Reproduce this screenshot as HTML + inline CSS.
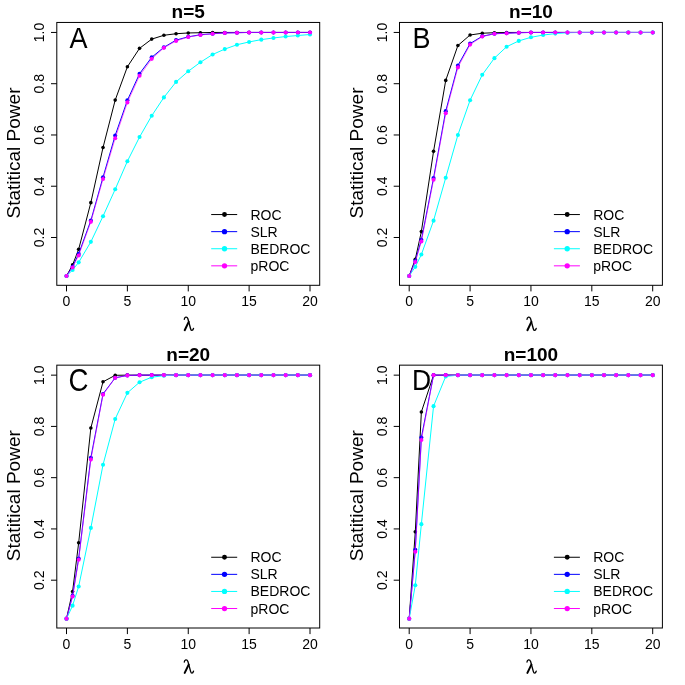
<!DOCTYPE html>
<html><head><meta charset="utf-8"><style>
html,body{margin:0;padding:0;background:#fff;}
body{width:685px;height:685px;overflow:hidden;}
svg{display:block;filter:blur(0.3px);}
text{font-family:"Liberation Sans",sans-serif;fill:#000;}
.tk{font-size:14px;}
.lab{font-size:19px;}
.ttl{font-size:19px;font-weight:bold;}
.let{font-size:28.5px;}
.leg{font-size:14px;}
</style></head><body>
<svg width="685" height="685" viewBox="0 0 685 685">
<rect width="685" height="685" fill="#fff"/>
<g transform="translate(0,0)">
<rect x="56.8" y="22.45" width="262.90" height="262.85" fill="none" stroke="#000" stroke-width="1"/>
<line x1="66.50" y1="285.3" x2="66.50" y2="291.40000000000003" stroke="#000" stroke-width="1"/>
<text x="66.50" y="306" class="tk" text-anchor="middle">0</text>
<line x1="127.38" y1="285.3" x2="127.38" y2="291.40000000000003" stroke="#000" stroke-width="1"/>
<text x="127.38" y="306" class="tk" text-anchor="middle">5</text>
<line x1="188.25" y1="285.3" x2="188.25" y2="291.40000000000003" stroke="#000" stroke-width="1"/>
<text x="188.25" y="306" class="tk" text-anchor="middle">10</text>
<line x1="249.12" y1="285.3" x2="249.12" y2="291.40000000000003" stroke="#000" stroke-width="1"/>
<text x="249.12" y="306" class="tk" text-anchor="middle">15</text>
<line x1="310.00" y1="285.3" x2="310.00" y2="291.40000000000003" stroke="#000" stroke-width="1"/>
<text x="310.00" y="306" class="tk" text-anchor="middle">20</text>
<line x1="51.0" y1="237.49" x2="56.8" y2="237.49" stroke="#000" stroke-width="1"/>
<text transform="translate(43.8,237.49) rotate(-90)" class="tk" text-anchor="middle">0.2</text>
<line x1="51.0" y1="186.23" x2="56.8" y2="186.23" stroke="#000" stroke-width="1"/>
<text transform="translate(43.8,186.23) rotate(-90)" class="tk" text-anchor="middle">0.4</text>
<line x1="51.0" y1="134.97" x2="56.8" y2="134.97" stroke="#000" stroke-width="1"/>
<text transform="translate(43.8,134.97) rotate(-90)" class="tk" text-anchor="middle">0.6</text>
<line x1="51.0" y1="83.71" x2="56.8" y2="83.71" stroke="#000" stroke-width="1"/>
<text transform="translate(43.8,83.71) rotate(-90)" class="tk" text-anchor="middle">0.8</text>
<line x1="51.0" y1="32.45" x2="56.8" y2="32.45" stroke="#000" stroke-width="1"/>
<text transform="translate(43.8,32.45) rotate(-90)" class="tk" text-anchor="middle">1.0</text>
<path d="M184.3,319.3 C184.5,317.0 186.9,316.2 187.9,318.7 L190.6,328.7 C191.2,331.0 192.7,331.0 193.5,328.5" fill="none" stroke="#000" stroke-width="1.35" stroke-linecap="round"/>
<path d="M188.7,321.9 L184.7,330.2" fill="none" stroke="#000" stroke-width="2.0" stroke-linecap="round"/>
<text transform="translate(20.2,153.0) rotate(-90)" class="lab" text-anchor="middle">Statitical Power</text>
<text x="188.25" y="18.2" class="ttl" text-anchor="middle">n=5</text>
<text transform="translate(69.6,47.6) rotate(0.01) scale(0.949,1.06)" class="let">A</text>
<polyline points="66.50,275.94 72.59,264.91 78.67,249.28 90.85,202.63 103.03,147.53 115.20,100.11 127.38,66.79 139.55,48.34 151.73,39.11 163.90,35.27 176.07,33.73 188.25,32.96 200.43,32.71 212.60,32.45 224.78,32.45 236.95,32.45 249.12,32.45 261.30,32.45 273.48,32.45 285.65,32.45 297.83,32.45 310.00,32.45" fill="none" stroke="#000000" stroke-width="1"/>
<circle cx="66.50" cy="275.94" r="1.8" fill="#000000"/>
<circle cx="72.59" cy="264.91" r="1.8" fill="#000000"/>
<circle cx="78.67" cy="249.28" r="1.8" fill="#000000"/>
<circle cx="90.85" cy="202.63" r="1.8" fill="#000000"/>
<circle cx="103.03" cy="147.53" r="1.8" fill="#000000"/>
<circle cx="115.20" cy="100.11" r="1.8" fill="#000000"/>
<circle cx="127.38" cy="66.79" r="1.8" fill="#000000"/>
<circle cx="139.55" cy="48.34" r="1.8" fill="#000000"/>
<circle cx="151.73" cy="39.11" r="1.8" fill="#000000"/>
<circle cx="163.90" cy="35.27" r="1.8" fill="#000000"/>
<circle cx="176.07" cy="33.73" r="1.8" fill="#000000"/>
<circle cx="188.25" cy="32.96" r="1.8" fill="#000000"/>
<circle cx="200.43" cy="32.71" r="1.8" fill="#000000"/>
<circle cx="212.60" cy="32.45" r="1.8" fill="#000000"/>
<circle cx="224.78" cy="32.45" r="1.8" fill="#000000"/>
<circle cx="236.95" cy="32.45" r="1.8" fill="#000000"/>
<circle cx="249.12" cy="32.45" r="1.8" fill="#000000"/>
<circle cx="261.30" cy="32.45" r="1.8" fill="#000000"/>
<circle cx="273.48" cy="32.45" r="1.8" fill="#000000"/>
<circle cx="285.65" cy="32.45" r="1.8" fill="#000000"/>
<circle cx="297.83" cy="32.45" r="1.8" fill="#000000"/>
<circle cx="310.00" cy="32.45" r="1.8" fill="#000000"/>
<polyline points="66.50,275.94 72.59,266.71 78.67,253.89 90.85,220.57 103.03,177.26 115.20,135.48 127.38,100.37 139.55,73.71 151.73,57.31 163.90,47.32 176.07,40.14 188.25,36.81 200.43,34.76 212.60,33.73 224.78,32.96 236.95,32.71 249.12,32.45 261.30,32.45 273.48,32.45 285.65,32.45 297.83,32.45 310.00,32.45" fill="none" stroke="#0000ff" stroke-width="1"/>
<circle cx="66.50" cy="275.94" r="2.05" fill="#0000ff"/>
<circle cx="72.59" cy="266.71" r="2.05" fill="#0000ff"/>
<circle cx="78.67" cy="253.89" r="2.05" fill="#0000ff"/>
<circle cx="90.85" cy="220.57" r="2.05" fill="#0000ff"/>
<circle cx="103.03" cy="177.26" r="2.05" fill="#0000ff"/>
<circle cx="115.20" cy="135.48" r="2.05" fill="#0000ff"/>
<circle cx="127.38" cy="100.37" r="2.05" fill="#0000ff"/>
<circle cx="139.55" cy="73.71" r="2.05" fill="#0000ff"/>
<circle cx="151.73" cy="57.31" r="2.05" fill="#0000ff"/>
<circle cx="163.90" cy="47.32" r="2.05" fill="#0000ff"/>
<circle cx="176.07" cy="40.14" r="2.05" fill="#0000ff"/>
<circle cx="188.25" cy="36.81" r="2.05" fill="#0000ff"/>
<circle cx="200.43" cy="34.76" r="2.05" fill="#0000ff"/>
<circle cx="212.60" cy="33.73" r="2.05" fill="#0000ff"/>
<circle cx="224.78" cy="32.96" r="2.05" fill="#0000ff"/>
<circle cx="236.95" cy="32.71" r="2.05" fill="#0000ff"/>
<circle cx="249.12" cy="32.45" r="2.05" fill="#0000ff"/>
<circle cx="261.30" cy="32.45" r="2.05" fill="#0000ff"/>
<circle cx="273.48" cy="32.45" r="2.05" fill="#0000ff"/>
<circle cx="285.65" cy="32.45" r="2.05" fill="#0000ff"/>
<circle cx="297.83" cy="32.45" r="2.05" fill="#0000ff"/>
<circle cx="310.00" cy="32.45" r="2.05" fill="#0000ff"/>
<polyline points="66.50,275.94 72.59,270.04 78.67,262.35 90.85,241.85 103.03,216.22 115.20,189.31 127.38,161.24 139.55,137.02 151.73,115.75 163.90,97.42 176.07,81.92 188.25,71.28 200.43,62.28 212.60,54.49 224.78,49.11 236.95,44.75 249.12,41.93 261.30,39.63 273.48,37.96 285.65,36.55 297.83,35.53 310.00,34.50" fill="none" stroke="#00ffff" stroke-width="1"/>
<circle cx="66.50" cy="275.94" r="2.05" fill="#00ffff"/>
<circle cx="72.59" cy="270.04" r="2.05" fill="#00ffff"/>
<circle cx="78.67" cy="262.35" r="2.05" fill="#00ffff"/>
<circle cx="90.85" cy="241.85" r="2.05" fill="#00ffff"/>
<circle cx="103.03" cy="216.22" r="2.05" fill="#00ffff"/>
<circle cx="115.20" cy="189.31" r="2.05" fill="#00ffff"/>
<circle cx="127.38" cy="161.24" r="2.05" fill="#00ffff"/>
<circle cx="139.55" cy="137.02" r="2.05" fill="#00ffff"/>
<circle cx="151.73" cy="115.75" r="2.05" fill="#00ffff"/>
<circle cx="163.90" cy="97.42" r="2.05" fill="#00ffff"/>
<circle cx="176.07" cy="81.92" r="2.05" fill="#00ffff"/>
<circle cx="188.25" cy="71.28" r="2.05" fill="#00ffff"/>
<circle cx="200.43" cy="62.28" r="2.05" fill="#00ffff"/>
<circle cx="212.60" cy="54.49" r="2.05" fill="#00ffff"/>
<circle cx="224.78" cy="49.11" r="2.05" fill="#00ffff"/>
<circle cx="236.95" cy="44.75" r="2.05" fill="#00ffff"/>
<circle cx="249.12" cy="41.93" r="2.05" fill="#00ffff"/>
<circle cx="261.30" cy="39.63" r="2.05" fill="#00ffff"/>
<circle cx="273.48" cy="37.96" r="2.05" fill="#00ffff"/>
<circle cx="285.65" cy="36.55" r="2.05" fill="#00ffff"/>
<circle cx="297.83" cy="35.53" r="2.05" fill="#00ffff"/>
<circle cx="310.00" cy="34.50" r="2.05" fill="#00ffff"/>
<polyline points="66.50,275.94 72.59,267.48 78.67,255.43 90.85,221.86 103.03,179.05 115.20,138.30 127.38,102.42 139.55,75.76 151.73,58.85 163.90,47.83 176.07,40.91 188.25,37.06 200.43,35.01 212.60,33.73 224.78,32.96 236.95,32.71 249.12,32.45 261.30,32.45 273.48,32.45 285.65,32.45 297.83,32.45 310.00,32.45" fill="none" stroke="#ff00ff" stroke-width="1" stroke-opacity="0.6"/>
<circle cx="66.50" cy="275.94" r="2.05" fill="#ff00ff"/>
<circle cx="72.59" cy="267.48" r="2.05" fill="#ff00ff"/>
<circle cx="78.67" cy="255.43" r="2.05" fill="#ff00ff"/>
<circle cx="90.85" cy="221.86" r="2.05" fill="#ff00ff"/>
<circle cx="103.03" cy="179.05" r="2.05" fill="#ff00ff"/>
<circle cx="115.20" cy="138.30" r="2.05" fill="#ff00ff"/>
<circle cx="127.38" cy="102.42" r="2.05" fill="#ff00ff"/>
<circle cx="139.55" cy="75.76" r="2.05" fill="#ff00ff"/>
<circle cx="151.73" cy="58.85" r="2.05" fill="#ff00ff"/>
<circle cx="163.90" cy="47.83" r="2.05" fill="#ff00ff"/>
<circle cx="176.07" cy="40.91" r="2.05" fill="#ff00ff"/>
<circle cx="188.25" cy="37.06" r="2.05" fill="#ff00ff"/>
<circle cx="200.43" cy="35.01" r="2.05" fill="#ff00ff"/>
<circle cx="212.60" cy="33.73" r="2.05" fill="#ff00ff"/>
<circle cx="224.78" cy="32.96" r="2.05" fill="#ff00ff"/>
<circle cx="236.95" cy="32.71" r="2.05" fill="#ff00ff"/>
<circle cx="249.12" cy="32.45" r="2.05" fill="#ff00ff"/>
<circle cx="261.30" cy="32.45" r="2.05" fill="#ff00ff"/>
<circle cx="273.48" cy="32.45" r="2.05" fill="#ff00ff"/>
<circle cx="285.65" cy="32.45" r="2.05" fill="#ff00ff"/>
<circle cx="297.83" cy="32.45" r="2.05" fill="#ff00ff"/>
<circle cx="310.00" cy="32.45" r="2.05" fill="#ff00ff"/>
<line x1="211.2" y1="214.56" x2="237.2" y2="214.56" stroke="#000000" stroke-width="1"/>
<circle cx="224.5" cy="214.56" r="2.45" fill="#000000"/>
<text x="250.5" y="219.56" class="leg">ROC</text>
<line x1="211.2" y1="231.65" x2="237.2" y2="231.65" stroke="#0000ff" stroke-width="1"/>
<circle cx="224.5" cy="231.65" r="2.65" fill="#0000ff"/>
<text x="250.5" y="236.65" class="leg">SLR</text>
<line x1="211.2" y1="248.74" x2="237.2" y2="248.74" stroke="#00ffff" stroke-width="1"/>
<circle cx="224.5" cy="248.74" r="2.65" fill="#00ffff"/>
<text x="250.5" y="253.74" class="leg">BEDROC</text>
<line x1="211.2" y1="265.83" x2="237.2" y2="265.83" stroke="#ff00ff" stroke-width="1"/>
<circle cx="224.5" cy="265.83" r="2.65" fill="#ff00ff"/>
<text x="250.5" y="270.83" class="leg">pROC</text>
</g>
<g transform="translate(342.7,0)">
<rect x="56.8" y="22.45" width="262.90" height="262.85" fill="none" stroke="#000" stroke-width="1"/>
<line x1="66.50" y1="285.3" x2="66.50" y2="291.40000000000003" stroke="#000" stroke-width="1"/>
<text x="66.50" y="306" class="tk" text-anchor="middle">0</text>
<line x1="127.38" y1="285.3" x2="127.38" y2="291.40000000000003" stroke="#000" stroke-width="1"/>
<text x="127.38" y="306" class="tk" text-anchor="middle">5</text>
<line x1="188.25" y1="285.3" x2="188.25" y2="291.40000000000003" stroke="#000" stroke-width="1"/>
<text x="188.25" y="306" class="tk" text-anchor="middle">10</text>
<line x1="249.12" y1="285.3" x2="249.12" y2="291.40000000000003" stroke="#000" stroke-width="1"/>
<text x="249.12" y="306" class="tk" text-anchor="middle">15</text>
<line x1="310.00" y1="285.3" x2="310.00" y2="291.40000000000003" stroke="#000" stroke-width="1"/>
<text x="310.00" y="306" class="tk" text-anchor="middle">20</text>
<line x1="51.0" y1="237.49" x2="56.8" y2="237.49" stroke="#000" stroke-width="1"/>
<text transform="translate(43.8,237.49) rotate(-90)" class="tk" text-anchor="middle">0.2</text>
<line x1="51.0" y1="186.23" x2="56.8" y2="186.23" stroke="#000" stroke-width="1"/>
<text transform="translate(43.8,186.23) rotate(-90)" class="tk" text-anchor="middle">0.4</text>
<line x1="51.0" y1="134.97" x2="56.8" y2="134.97" stroke="#000" stroke-width="1"/>
<text transform="translate(43.8,134.97) rotate(-90)" class="tk" text-anchor="middle">0.6</text>
<line x1="51.0" y1="83.71" x2="56.8" y2="83.71" stroke="#000" stroke-width="1"/>
<text transform="translate(43.8,83.71) rotate(-90)" class="tk" text-anchor="middle">0.8</text>
<line x1="51.0" y1="32.45" x2="56.8" y2="32.45" stroke="#000" stroke-width="1"/>
<text transform="translate(43.8,32.45) rotate(-90)" class="tk" text-anchor="middle">1.0</text>
<path d="M184.3,319.3 C184.5,317.0 186.9,316.2 187.9,318.7 L190.6,328.7 C191.2,331.0 192.7,331.0 193.5,328.5" fill="none" stroke="#000" stroke-width="1.35" stroke-linecap="round"/>
<path d="M188.7,321.9 L184.7,330.2" fill="none" stroke="#000" stroke-width="2.0" stroke-linecap="round"/>
<text transform="translate(20.2,153.0) rotate(-90)" class="lab" text-anchor="middle">Statitical Power</text>
<text x="188.25" y="18.2" class="ttl" text-anchor="middle">n=10</text>
<text transform="translate(69.7,47.6) rotate(0.01) scale(0.948,1.06)" class="let">B</text>
<polyline points="66.50,275.94 72.59,259.28 78.67,231.60 90.85,151.37 103.03,80.38 115.20,45.52 127.38,35.01 139.55,33.22 151.73,32.71 163.90,32.45 176.07,32.45 188.25,32.45 200.43,32.45 212.60,32.45 224.78,32.45 236.95,32.45 249.12,32.45 261.30,32.45 273.48,32.45 285.65,32.45 297.83,32.45 310.00,32.45" fill="none" stroke="#000000" stroke-width="1"/>
<circle cx="66.50" cy="275.94" r="1.8" fill="#000000"/>
<circle cx="72.59" cy="259.28" r="1.8" fill="#000000"/>
<circle cx="78.67" cy="231.60" r="1.8" fill="#000000"/>
<circle cx="90.85" cy="151.37" r="1.8" fill="#000000"/>
<circle cx="103.03" cy="80.38" r="1.8" fill="#000000"/>
<circle cx="115.20" cy="45.52" r="1.8" fill="#000000"/>
<circle cx="127.38" cy="35.01" r="1.8" fill="#000000"/>
<circle cx="139.55" cy="33.22" r="1.8" fill="#000000"/>
<circle cx="151.73" cy="32.71" r="1.8" fill="#000000"/>
<circle cx="163.90" cy="32.45" r="1.8" fill="#000000"/>
<circle cx="176.07" cy="32.45" r="1.8" fill="#000000"/>
<circle cx="188.25" cy="32.45" r="1.8" fill="#000000"/>
<circle cx="200.43" cy="32.45" r="1.8" fill="#000000"/>
<circle cx="212.60" cy="32.45" r="1.8" fill="#000000"/>
<circle cx="224.78" cy="32.45" r="1.8" fill="#000000"/>
<circle cx="236.95" cy="32.45" r="1.8" fill="#000000"/>
<circle cx="249.12" cy="32.45" r="1.8" fill="#000000"/>
<circle cx="261.30" cy="32.45" r="1.8" fill="#000000"/>
<circle cx="273.48" cy="32.45" r="1.8" fill="#000000"/>
<circle cx="285.65" cy="32.45" r="1.8" fill="#000000"/>
<circle cx="297.83" cy="32.45" r="1.8" fill="#000000"/>
<circle cx="310.00" cy="32.45" r="1.8" fill="#000000"/>
<polyline points="66.50,275.94 72.59,261.07 78.67,239.80 90.85,178.03 103.03,111.13 115.20,65.64 127.38,43.60 139.55,36.29 151.73,33.73 163.90,33.22 176.07,32.71 188.25,32.45 200.43,32.45 212.60,32.45 224.78,32.45 236.95,32.45 249.12,32.45 261.30,32.45 273.48,32.45 285.65,32.45 297.83,32.45 310.00,32.45" fill="none" stroke="#0000ff" stroke-width="1"/>
<circle cx="66.50" cy="275.94" r="2.05" fill="#0000ff"/>
<circle cx="72.59" cy="261.07" r="2.05" fill="#0000ff"/>
<circle cx="78.67" cy="239.80" r="2.05" fill="#0000ff"/>
<circle cx="90.85" cy="178.03" r="2.05" fill="#0000ff"/>
<circle cx="103.03" cy="111.13" r="2.05" fill="#0000ff"/>
<circle cx="115.20" cy="65.64" r="2.05" fill="#0000ff"/>
<circle cx="127.38" cy="43.60" r="2.05" fill="#0000ff"/>
<circle cx="139.55" cy="36.29" r="2.05" fill="#0000ff"/>
<circle cx="151.73" cy="33.73" r="2.05" fill="#0000ff"/>
<circle cx="163.90" cy="33.22" r="2.05" fill="#0000ff"/>
<circle cx="176.07" cy="32.71" r="2.05" fill="#0000ff"/>
<circle cx="188.25" cy="32.45" r="2.05" fill="#0000ff"/>
<circle cx="200.43" cy="32.45" r="2.05" fill="#0000ff"/>
<circle cx="212.60" cy="32.45" r="2.05" fill="#0000ff"/>
<circle cx="224.78" cy="32.45" r="2.05" fill="#0000ff"/>
<circle cx="236.95" cy="32.45" r="2.05" fill="#0000ff"/>
<circle cx="249.12" cy="32.45" r="2.05" fill="#0000ff"/>
<circle cx="261.30" cy="32.45" r="2.05" fill="#0000ff"/>
<circle cx="273.48" cy="32.45" r="2.05" fill="#0000ff"/>
<circle cx="285.65" cy="32.45" r="2.05" fill="#0000ff"/>
<circle cx="297.83" cy="32.45" r="2.05" fill="#0000ff"/>
<circle cx="310.00" cy="32.45" r="2.05" fill="#0000ff"/>
<polyline points="66.50,275.94 72.59,266.84 78.67,254.56 90.85,220.65 103.03,177.77 115.20,134.97 127.38,100.22 139.55,74.82 151.73,58.13 163.90,46.73 176.07,40.91 188.25,37.32 200.43,35.06 212.60,33.60 224.78,32.71 236.95,32.45 249.12,32.45 261.30,32.45 273.48,32.45 285.65,32.45 297.83,32.45 310.00,32.45" fill="none" stroke="#00ffff" stroke-width="1"/>
<circle cx="66.50" cy="275.94" r="2.05" fill="#00ffff"/>
<circle cx="72.59" cy="266.84" r="2.05" fill="#00ffff"/>
<circle cx="78.67" cy="254.56" r="2.05" fill="#00ffff"/>
<circle cx="90.85" cy="220.65" r="2.05" fill="#00ffff"/>
<circle cx="103.03" cy="177.77" r="2.05" fill="#00ffff"/>
<circle cx="115.20" cy="134.97" r="2.05" fill="#00ffff"/>
<circle cx="127.38" cy="100.22" r="2.05" fill="#00ffff"/>
<circle cx="139.55" cy="74.82" r="2.05" fill="#00ffff"/>
<circle cx="151.73" cy="58.13" r="2.05" fill="#00ffff"/>
<circle cx="163.90" cy="46.73" r="2.05" fill="#00ffff"/>
<circle cx="176.07" cy="40.91" r="2.05" fill="#00ffff"/>
<circle cx="188.25" cy="37.32" r="2.05" fill="#00ffff"/>
<circle cx="200.43" cy="35.06" r="2.05" fill="#00ffff"/>
<circle cx="212.60" cy="33.60" r="2.05" fill="#00ffff"/>
<circle cx="224.78" cy="32.71" r="2.05" fill="#00ffff"/>
<circle cx="236.95" cy="32.45" r="2.05" fill="#00ffff"/>
<circle cx="249.12" cy="32.45" r="2.05" fill="#00ffff"/>
<circle cx="261.30" cy="32.45" r="2.05" fill="#00ffff"/>
<circle cx="273.48" cy="32.45" r="2.05" fill="#00ffff"/>
<circle cx="285.65" cy="32.45" r="2.05" fill="#00ffff"/>
<circle cx="297.83" cy="32.45" r="2.05" fill="#00ffff"/>
<circle cx="310.00" cy="32.45" r="2.05" fill="#00ffff"/>
<polyline points="66.50,275.94 72.59,261.97 78.67,241.46 90.85,179.82 103.03,113.31 115.20,67.41 127.38,44.62 139.55,36.55 151.73,33.81 163.90,33.22 176.07,32.71 188.25,32.45 200.43,32.45 212.60,32.45 224.78,32.45 236.95,32.45 249.12,32.45 261.30,32.45 273.48,32.45 285.65,32.45 297.83,32.45 310.00,32.45" fill="none" stroke="#ff00ff" stroke-width="1" stroke-opacity="0.6"/>
<circle cx="66.50" cy="275.94" r="2.05" fill="#ff00ff"/>
<circle cx="72.59" cy="261.97" r="2.05" fill="#ff00ff"/>
<circle cx="78.67" cy="241.46" r="2.05" fill="#ff00ff"/>
<circle cx="90.85" cy="179.82" r="2.05" fill="#ff00ff"/>
<circle cx="103.03" cy="113.31" r="2.05" fill="#ff00ff"/>
<circle cx="115.20" cy="67.41" r="2.05" fill="#ff00ff"/>
<circle cx="127.38" cy="44.62" r="2.05" fill="#ff00ff"/>
<circle cx="139.55" cy="36.55" r="2.05" fill="#ff00ff"/>
<circle cx="151.73" cy="33.81" r="2.05" fill="#ff00ff"/>
<circle cx="163.90" cy="33.22" r="2.05" fill="#ff00ff"/>
<circle cx="176.07" cy="32.71" r="2.05" fill="#ff00ff"/>
<circle cx="188.25" cy="32.45" r="2.05" fill="#ff00ff"/>
<circle cx="200.43" cy="32.45" r="2.05" fill="#ff00ff"/>
<circle cx="212.60" cy="32.45" r="2.05" fill="#ff00ff"/>
<circle cx="224.78" cy="32.45" r="2.05" fill="#ff00ff"/>
<circle cx="236.95" cy="32.45" r="2.05" fill="#ff00ff"/>
<circle cx="249.12" cy="32.45" r="2.05" fill="#ff00ff"/>
<circle cx="261.30" cy="32.45" r="2.05" fill="#ff00ff"/>
<circle cx="273.48" cy="32.45" r="2.05" fill="#ff00ff"/>
<circle cx="285.65" cy="32.45" r="2.05" fill="#ff00ff"/>
<circle cx="297.83" cy="32.45" r="2.05" fill="#ff00ff"/>
<circle cx="310.00" cy="32.45" r="2.05" fill="#ff00ff"/>
<line x1="211.2" y1="214.56" x2="237.2" y2="214.56" stroke="#000000" stroke-width="1"/>
<circle cx="224.5" cy="214.56" r="2.45" fill="#000000"/>
<text x="250.5" y="219.56" class="leg">ROC</text>
<line x1="211.2" y1="231.65" x2="237.2" y2="231.65" stroke="#0000ff" stroke-width="1"/>
<circle cx="224.5" cy="231.65" r="2.65" fill="#0000ff"/>
<text x="250.5" y="236.65" class="leg">SLR</text>
<line x1="211.2" y1="248.74" x2="237.2" y2="248.74" stroke="#00ffff" stroke-width="1"/>
<circle cx="224.5" cy="248.74" r="2.65" fill="#00ffff"/>
<text x="250.5" y="253.74" class="leg">BEDROC</text>
<line x1="211.2" y1="265.83" x2="237.2" y2="265.83" stroke="#ff00ff" stroke-width="1"/>
<circle cx="224.5" cy="265.83" r="2.65" fill="#ff00ff"/>
<text x="250.5" y="270.83" class="leg">pROC</text>
</g>
<g transform="translate(0,342.7)">
<rect x="56.8" y="22.45" width="262.90" height="262.85" fill="none" stroke="#000" stroke-width="1"/>
<line x1="66.50" y1="285.3" x2="66.50" y2="291.40000000000003" stroke="#000" stroke-width="1"/>
<text x="66.50" y="306" class="tk" text-anchor="middle">0</text>
<line x1="127.38" y1="285.3" x2="127.38" y2="291.40000000000003" stroke="#000" stroke-width="1"/>
<text x="127.38" y="306" class="tk" text-anchor="middle">5</text>
<line x1="188.25" y1="285.3" x2="188.25" y2="291.40000000000003" stroke="#000" stroke-width="1"/>
<text x="188.25" y="306" class="tk" text-anchor="middle">10</text>
<line x1="249.12" y1="285.3" x2="249.12" y2="291.40000000000003" stroke="#000" stroke-width="1"/>
<text x="249.12" y="306" class="tk" text-anchor="middle">15</text>
<line x1="310.00" y1="285.3" x2="310.00" y2="291.40000000000003" stroke="#000" stroke-width="1"/>
<text x="310.00" y="306" class="tk" text-anchor="middle">20</text>
<line x1="51.0" y1="237.49" x2="56.8" y2="237.49" stroke="#000" stroke-width="1"/>
<text transform="translate(43.8,237.49) rotate(-90)" class="tk" text-anchor="middle">0.2</text>
<line x1="51.0" y1="186.23" x2="56.8" y2="186.23" stroke="#000" stroke-width="1"/>
<text transform="translate(43.8,186.23) rotate(-90)" class="tk" text-anchor="middle">0.4</text>
<line x1="51.0" y1="134.97" x2="56.8" y2="134.97" stroke="#000" stroke-width="1"/>
<text transform="translate(43.8,134.97) rotate(-90)" class="tk" text-anchor="middle">0.6</text>
<line x1="51.0" y1="83.71" x2="56.8" y2="83.71" stroke="#000" stroke-width="1"/>
<text transform="translate(43.8,83.71) rotate(-90)" class="tk" text-anchor="middle">0.8</text>
<line x1="51.0" y1="32.45" x2="56.8" y2="32.45" stroke="#000" stroke-width="1"/>
<text transform="translate(43.8,32.45) rotate(-90)" class="tk" text-anchor="middle">1.0</text>
<path d="M184.3,319.3 C184.5,317.0 186.9,316.2 187.9,318.7 L190.6,328.7 C191.2,331.0 192.7,331.0 193.5,328.5" fill="none" stroke="#000" stroke-width="1.35" stroke-linecap="round"/>
<path d="M188.7,321.9 L184.7,330.2" fill="none" stroke="#000" stroke-width="2.0" stroke-linecap="round"/>
<text transform="translate(20.2,153.0) rotate(-90)" class="lab" text-anchor="middle">Statitical Power</text>
<text x="188.25" y="18.2" class="ttl" text-anchor="middle">n=20</text>
<text transform="translate(68.4,48.0) rotate(0.01) scale(0.97,1.08)" class="let">C</text>
<polyline points="66.50,275.94 72.59,248.77 78.67,200.15 90.85,85.25 103.03,39.11 115.20,32.60 127.38,32.45 139.55,32.45 151.73,32.45 163.90,32.45 176.07,32.45 188.25,32.45 200.43,32.45 212.60,32.45 224.78,32.45 236.95,32.45 249.12,32.45 261.30,32.45 273.48,32.45 285.65,32.45 297.83,32.45 310.00,32.45" fill="none" stroke="#000000" stroke-width="1"/>
<circle cx="66.50" cy="275.94" r="1.8" fill="#000000"/>
<circle cx="72.59" cy="248.77" r="1.8" fill="#000000"/>
<circle cx="78.67" cy="200.15" r="1.8" fill="#000000"/>
<circle cx="90.85" cy="85.25" r="1.8" fill="#000000"/>
<circle cx="103.03" cy="39.11" r="1.8" fill="#000000"/>
<circle cx="115.20" cy="32.60" r="1.8" fill="#000000"/>
<circle cx="127.38" cy="32.45" r="1.8" fill="#000000"/>
<circle cx="139.55" cy="32.45" r="1.8" fill="#000000"/>
<circle cx="151.73" cy="32.45" r="1.8" fill="#000000"/>
<circle cx="163.90" cy="32.45" r="1.8" fill="#000000"/>
<circle cx="176.07" cy="32.45" r="1.8" fill="#000000"/>
<circle cx="188.25" cy="32.45" r="1.8" fill="#000000"/>
<circle cx="200.43" cy="32.45" r="1.8" fill="#000000"/>
<circle cx="212.60" cy="32.45" r="1.8" fill="#000000"/>
<circle cx="224.78" cy="32.45" r="1.8" fill="#000000"/>
<circle cx="236.95" cy="32.45" r="1.8" fill="#000000"/>
<circle cx="249.12" cy="32.45" r="1.8" fill="#000000"/>
<circle cx="261.30" cy="32.45" r="1.8" fill="#000000"/>
<circle cx="273.48" cy="32.45" r="1.8" fill="#000000"/>
<circle cx="285.65" cy="32.45" r="1.8" fill="#000000"/>
<circle cx="297.83" cy="32.45" r="1.8" fill="#000000"/>
<circle cx="310.00" cy="32.45" r="1.8" fill="#000000"/>
<polyline points="66.50,275.94 72.59,253.12 78.67,215.76 90.85,114.98 103.03,51.29 115.20,35.12 127.38,32.71 139.55,32.45 151.73,32.45 163.90,32.45 176.07,32.45 188.25,32.45 200.43,32.45 212.60,32.45 224.78,32.45 236.95,32.45 249.12,32.45 261.30,32.45 273.48,32.45 285.65,32.45 297.83,32.45 310.00,32.45" fill="none" stroke="#0000ff" stroke-width="1"/>
<circle cx="66.50" cy="275.94" r="2.05" fill="#0000ff"/>
<circle cx="72.59" cy="253.12" r="2.05" fill="#0000ff"/>
<circle cx="78.67" cy="215.76" r="2.05" fill="#0000ff"/>
<circle cx="90.85" cy="114.98" r="2.05" fill="#0000ff"/>
<circle cx="103.03" cy="51.29" r="2.05" fill="#0000ff"/>
<circle cx="115.20" cy="35.12" r="2.05" fill="#0000ff"/>
<circle cx="127.38" cy="32.71" r="2.05" fill="#0000ff"/>
<circle cx="139.55" cy="32.45" r="2.05" fill="#0000ff"/>
<circle cx="151.73" cy="32.45" r="2.05" fill="#0000ff"/>
<circle cx="163.90" cy="32.45" r="2.05" fill="#0000ff"/>
<circle cx="176.07" cy="32.45" r="2.05" fill="#0000ff"/>
<circle cx="188.25" cy="32.45" r="2.05" fill="#0000ff"/>
<circle cx="200.43" cy="32.45" r="2.05" fill="#0000ff"/>
<circle cx="212.60" cy="32.45" r="2.05" fill="#0000ff"/>
<circle cx="224.78" cy="32.45" r="2.05" fill="#0000ff"/>
<circle cx="236.95" cy="32.45" r="2.05" fill="#0000ff"/>
<circle cx="249.12" cy="32.45" r="2.05" fill="#0000ff"/>
<circle cx="261.30" cy="32.45" r="2.05" fill="#0000ff"/>
<circle cx="273.48" cy="32.45" r="2.05" fill="#0000ff"/>
<circle cx="285.65" cy="32.45" r="2.05" fill="#0000ff"/>
<circle cx="297.83" cy="32.45" r="2.05" fill="#0000ff"/>
<circle cx="310.00" cy="32.45" r="2.05" fill="#0000ff"/>
<polyline points="66.50,275.94 72.59,262.97 78.67,243.77 90.85,185.20 103.03,122.03 115.20,76.28 127.38,50.13 139.55,39.52 151.73,34.50 163.90,32.96 176.07,32.45 188.25,32.45 200.43,32.45 212.60,32.45 224.78,32.45 236.95,32.45 249.12,32.45 261.30,32.45 273.48,32.45 285.65,32.45 297.83,32.45 310.00,32.45" fill="none" stroke="#00ffff" stroke-width="1"/>
<circle cx="66.50" cy="275.94" r="2.05" fill="#00ffff"/>
<circle cx="72.59" cy="262.97" r="2.05" fill="#00ffff"/>
<circle cx="78.67" cy="243.77" r="2.05" fill="#00ffff"/>
<circle cx="90.85" cy="185.20" r="2.05" fill="#00ffff"/>
<circle cx="103.03" cy="122.03" r="2.05" fill="#00ffff"/>
<circle cx="115.20" cy="76.28" r="2.05" fill="#00ffff"/>
<circle cx="127.38" cy="50.13" r="2.05" fill="#00ffff"/>
<circle cx="139.55" cy="39.52" r="2.05" fill="#00ffff"/>
<circle cx="151.73" cy="34.50" r="2.05" fill="#00ffff"/>
<circle cx="163.90" cy="32.96" r="2.05" fill="#00ffff"/>
<circle cx="176.07" cy="32.45" r="2.05" fill="#00ffff"/>
<circle cx="188.25" cy="32.45" r="2.05" fill="#00ffff"/>
<circle cx="200.43" cy="32.45" r="2.05" fill="#00ffff"/>
<circle cx="212.60" cy="32.45" r="2.05" fill="#00ffff"/>
<circle cx="224.78" cy="32.45" r="2.05" fill="#00ffff"/>
<circle cx="236.95" cy="32.45" r="2.05" fill="#00ffff"/>
<circle cx="249.12" cy="32.45" r="2.05" fill="#00ffff"/>
<circle cx="261.30" cy="32.45" r="2.05" fill="#00ffff"/>
<circle cx="273.48" cy="32.45" r="2.05" fill="#00ffff"/>
<circle cx="285.65" cy="32.45" r="2.05" fill="#00ffff"/>
<circle cx="297.83" cy="32.45" r="2.05" fill="#00ffff"/>
<circle cx="310.00" cy="32.45" r="2.05" fill="#00ffff"/>
<polyline points="66.50,275.94 72.59,253.77 78.67,216.99 90.85,116.90 103.03,51.93 115.20,35.12 127.38,32.71 139.55,32.45 151.73,32.45 163.90,32.45 176.07,32.45 188.25,32.45 200.43,32.45 212.60,32.45 224.78,32.45 236.95,32.45 249.12,32.45 261.30,32.45 273.48,32.45 285.65,32.45 297.83,32.45 310.00,32.45" fill="none" stroke="#ff00ff" stroke-width="1" stroke-opacity="0.6"/>
<circle cx="66.50" cy="275.94" r="2.05" fill="#ff00ff"/>
<circle cx="72.59" cy="253.77" r="2.05" fill="#ff00ff"/>
<circle cx="78.67" cy="216.99" r="2.05" fill="#ff00ff"/>
<circle cx="90.85" cy="116.90" r="2.05" fill="#ff00ff"/>
<circle cx="103.03" cy="51.93" r="2.05" fill="#ff00ff"/>
<circle cx="115.20" cy="35.12" r="2.05" fill="#ff00ff"/>
<circle cx="127.38" cy="32.71" r="2.05" fill="#ff00ff"/>
<circle cx="139.55" cy="32.45" r="2.05" fill="#ff00ff"/>
<circle cx="151.73" cy="32.45" r="2.05" fill="#ff00ff"/>
<circle cx="163.90" cy="32.45" r="2.05" fill="#ff00ff"/>
<circle cx="176.07" cy="32.45" r="2.05" fill="#ff00ff"/>
<circle cx="188.25" cy="32.45" r="2.05" fill="#ff00ff"/>
<circle cx="200.43" cy="32.45" r="2.05" fill="#ff00ff"/>
<circle cx="212.60" cy="32.45" r="2.05" fill="#ff00ff"/>
<circle cx="224.78" cy="32.45" r="2.05" fill="#ff00ff"/>
<circle cx="236.95" cy="32.45" r="2.05" fill="#ff00ff"/>
<circle cx="249.12" cy="32.45" r="2.05" fill="#ff00ff"/>
<circle cx="261.30" cy="32.45" r="2.05" fill="#ff00ff"/>
<circle cx="273.48" cy="32.45" r="2.05" fill="#ff00ff"/>
<circle cx="285.65" cy="32.45" r="2.05" fill="#ff00ff"/>
<circle cx="297.83" cy="32.45" r="2.05" fill="#ff00ff"/>
<circle cx="310.00" cy="32.45" r="2.05" fill="#ff00ff"/>
<line x1="211.2" y1="214.56" x2="237.2" y2="214.56" stroke="#000000" stroke-width="1"/>
<circle cx="224.5" cy="214.56" r="2.45" fill="#000000"/>
<text x="250.5" y="219.56" class="leg">ROC</text>
<line x1="211.2" y1="231.65" x2="237.2" y2="231.65" stroke="#0000ff" stroke-width="1"/>
<circle cx="224.5" cy="231.65" r="2.65" fill="#0000ff"/>
<text x="250.5" y="236.65" class="leg">SLR</text>
<line x1="211.2" y1="248.74" x2="237.2" y2="248.74" stroke="#00ffff" stroke-width="1"/>
<circle cx="224.5" cy="248.74" r="2.65" fill="#00ffff"/>
<text x="250.5" y="253.74" class="leg">BEDROC</text>
<line x1="211.2" y1="265.83" x2="237.2" y2="265.83" stroke="#ff00ff" stroke-width="1"/>
<circle cx="224.5" cy="265.83" r="2.65" fill="#ff00ff"/>
<text x="250.5" y="270.83" class="leg">pROC</text>
</g>
<g transform="translate(342.7,342.7)">
<rect x="56.8" y="22.45" width="262.90" height="262.85" fill="none" stroke="#000" stroke-width="1"/>
<line x1="66.50" y1="285.3" x2="66.50" y2="291.40000000000003" stroke="#000" stroke-width="1"/>
<text x="66.50" y="306" class="tk" text-anchor="middle">0</text>
<line x1="127.38" y1="285.3" x2="127.38" y2="291.40000000000003" stroke="#000" stroke-width="1"/>
<text x="127.38" y="306" class="tk" text-anchor="middle">5</text>
<line x1="188.25" y1="285.3" x2="188.25" y2="291.40000000000003" stroke="#000" stroke-width="1"/>
<text x="188.25" y="306" class="tk" text-anchor="middle">10</text>
<line x1="249.12" y1="285.3" x2="249.12" y2="291.40000000000003" stroke="#000" stroke-width="1"/>
<text x="249.12" y="306" class="tk" text-anchor="middle">15</text>
<line x1="310.00" y1="285.3" x2="310.00" y2="291.40000000000003" stroke="#000" stroke-width="1"/>
<text x="310.00" y="306" class="tk" text-anchor="middle">20</text>
<line x1="51.0" y1="237.49" x2="56.8" y2="237.49" stroke="#000" stroke-width="1"/>
<text transform="translate(43.8,237.49) rotate(-90)" class="tk" text-anchor="middle">0.2</text>
<line x1="51.0" y1="186.23" x2="56.8" y2="186.23" stroke="#000" stroke-width="1"/>
<text transform="translate(43.8,186.23) rotate(-90)" class="tk" text-anchor="middle">0.4</text>
<line x1="51.0" y1="134.97" x2="56.8" y2="134.97" stroke="#000" stroke-width="1"/>
<text transform="translate(43.8,134.97) rotate(-90)" class="tk" text-anchor="middle">0.6</text>
<line x1="51.0" y1="83.71" x2="56.8" y2="83.71" stroke="#000" stroke-width="1"/>
<text transform="translate(43.8,83.71) rotate(-90)" class="tk" text-anchor="middle">0.8</text>
<line x1="51.0" y1="32.45" x2="56.8" y2="32.45" stroke="#000" stroke-width="1"/>
<text transform="translate(43.8,32.45) rotate(-90)" class="tk" text-anchor="middle">1.0</text>
<path d="M184.3,319.3 C184.5,317.0 186.9,316.2 187.9,318.7 L190.6,328.7 C191.2,331.0 192.7,331.0 193.5,328.5" fill="none" stroke="#000" stroke-width="1.35" stroke-linecap="round"/>
<path d="M188.7,321.9 L184.7,330.2" fill="none" stroke="#000" stroke-width="2.0" stroke-linecap="round"/>
<text transform="translate(20.2,153.0) rotate(-90)" class="lab" text-anchor="middle">Statitical Power</text>
<text x="188.25" y="18.2" class="ttl" text-anchor="middle">n=100</text>
<text transform="translate(69.2,47.3) rotate(0.01) scale(0.93,1.06)" class="let">D</text>
<polyline points="66.50,275.94 72.59,189.15 78.67,69.23 90.85,32.45 103.03,32.45 115.20,32.45 127.38,32.45 139.55,32.45 151.73,32.45 163.90,32.45 176.07,32.45 188.25,32.45 200.43,32.45 212.60,32.45 224.78,32.45 236.95,32.45 249.12,32.45 261.30,32.45 273.48,32.45 285.65,32.45 297.83,32.45 310.00,32.45" fill="none" stroke="#000000" stroke-width="1"/>
<circle cx="66.50" cy="275.94" r="1.8" fill="#000000"/>
<circle cx="72.59" cy="189.15" r="1.8" fill="#000000"/>
<circle cx="78.67" cy="69.23" r="1.8" fill="#000000"/>
<circle cx="90.85" cy="32.45" r="1.8" fill="#000000"/>
<circle cx="103.03" cy="32.45" r="1.8" fill="#000000"/>
<circle cx="115.20" cy="32.45" r="1.8" fill="#000000"/>
<circle cx="127.38" cy="32.45" r="1.8" fill="#000000"/>
<circle cx="139.55" cy="32.45" r="1.8" fill="#000000"/>
<circle cx="151.73" cy="32.45" r="1.8" fill="#000000"/>
<circle cx="163.90" cy="32.45" r="1.8" fill="#000000"/>
<circle cx="176.07" cy="32.45" r="1.8" fill="#000000"/>
<circle cx="188.25" cy="32.45" r="1.8" fill="#000000"/>
<circle cx="200.43" cy="32.45" r="1.8" fill="#000000"/>
<circle cx="212.60" cy="32.45" r="1.8" fill="#000000"/>
<circle cx="224.78" cy="32.45" r="1.8" fill="#000000"/>
<circle cx="236.95" cy="32.45" r="1.8" fill="#000000"/>
<circle cx="249.12" cy="32.45" r="1.8" fill="#000000"/>
<circle cx="261.30" cy="32.45" r="1.8" fill="#000000"/>
<circle cx="273.48" cy="32.45" r="1.8" fill="#000000"/>
<circle cx="285.65" cy="32.45" r="1.8" fill="#000000"/>
<circle cx="297.83" cy="32.45" r="1.8" fill="#000000"/>
<circle cx="310.00" cy="32.45" r="1.8" fill="#000000"/>
<polyline points="66.50,275.94 72.59,206.99 78.67,94.83 90.85,32.45 103.03,32.45 115.20,32.45 127.38,32.45 139.55,32.45 151.73,32.45 163.90,32.45 176.07,32.45 188.25,32.45 200.43,32.45 212.60,32.45 224.78,32.45 236.95,32.45 249.12,32.45 261.30,32.45 273.48,32.45 285.65,32.45 297.83,32.45 310.00,32.45" fill="none" stroke="#0000ff" stroke-width="1"/>
<circle cx="66.50" cy="275.94" r="2.05" fill="#0000ff"/>
<circle cx="72.59" cy="206.99" r="2.05" fill="#0000ff"/>
<circle cx="78.67" cy="94.83" r="2.05" fill="#0000ff"/>
<circle cx="90.85" cy="32.45" r="2.05" fill="#0000ff"/>
<circle cx="103.03" cy="32.45" r="2.05" fill="#0000ff"/>
<circle cx="115.20" cy="32.45" r="2.05" fill="#0000ff"/>
<circle cx="127.38" cy="32.45" r="2.05" fill="#0000ff"/>
<circle cx="139.55" cy="32.45" r="2.05" fill="#0000ff"/>
<circle cx="151.73" cy="32.45" r="2.05" fill="#0000ff"/>
<circle cx="163.90" cy="32.45" r="2.05" fill="#0000ff"/>
<circle cx="176.07" cy="32.45" r="2.05" fill="#0000ff"/>
<circle cx="188.25" cy="32.45" r="2.05" fill="#0000ff"/>
<circle cx="200.43" cy="32.45" r="2.05" fill="#0000ff"/>
<circle cx="212.60" cy="32.45" r="2.05" fill="#0000ff"/>
<circle cx="224.78" cy="32.45" r="2.05" fill="#0000ff"/>
<circle cx="236.95" cy="32.45" r="2.05" fill="#0000ff"/>
<circle cx="249.12" cy="32.45" r="2.05" fill="#0000ff"/>
<circle cx="261.30" cy="32.45" r="2.05" fill="#0000ff"/>
<circle cx="273.48" cy="32.45" r="2.05" fill="#0000ff"/>
<circle cx="285.65" cy="32.45" r="2.05" fill="#0000ff"/>
<circle cx="297.83" cy="32.45" r="2.05" fill="#0000ff"/>
<circle cx="310.00" cy="32.45" r="2.05" fill="#0000ff"/>
<polyline points="66.50,275.94 72.59,242.62 78.67,181.44 90.85,63.46 103.03,33.73 115.20,32.45 127.38,32.45 139.55,32.45 151.73,32.45 163.90,32.45 176.07,32.45 188.25,32.45 200.43,32.45 212.60,32.45 224.78,32.45 236.95,32.45 249.12,32.45 261.30,32.45 273.48,32.45 285.65,32.45 297.83,32.45 310.00,32.45" fill="none" stroke="#00ffff" stroke-width="1"/>
<circle cx="66.50" cy="275.94" r="2.05" fill="#00ffff"/>
<circle cx="72.59" cy="242.62" r="2.05" fill="#00ffff"/>
<circle cx="78.67" cy="181.44" r="2.05" fill="#00ffff"/>
<circle cx="90.85" cy="63.46" r="2.05" fill="#00ffff"/>
<circle cx="103.03" cy="33.73" r="2.05" fill="#00ffff"/>
<circle cx="115.20" cy="32.45" r="2.05" fill="#00ffff"/>
<circle cx="127.38" cy="32.45" r="2.05" fill="#00ffff"/>
<circle cx="139.55" cy="32.45" r="2.05" fill="#00ffff"/>
<circle cx="151.73" cy="32.45" r="2.05" fill="#00ffff"/>
<circle cx="163.90" cy="32.45" r="2.05" fill="#00ffff"/>
<circle cx="176.07" cy="32.45" r="2.05" fill="#00ffff"/>
<circle cx="188.25" cy="32.45" r="2.05" fill="#00ffff"/>
<circle cx="200.43" cy="32.45" r="2.05" fill="#00ffff"/>
<circle cx="212.60" cy="32.45" r="2.05" fill="#00ffff"/>
<circle cx="224.78" cy="32.45" r="2.05" fill="#00ffff"/>
<circle cx="236.95" cy="32.45" r="2.05" fill="#00ffff"/>
<circle cx="249.12" cy="32.45" r="2.05" fill="#00ffff"/>
<circle cx="261.30" cy="32.45" r="2.05" fill="#00ffff"/>
<circle cx="273.48" cy="32.45" r="2.05" fill="#00ffff"/>
<circle cx="285.65" cy="32.45" r="2.05" fill="#00ffff"/>
<circle cx="297.83" cy="32.45" r="2.05" fill="#00ffff"/>
<circle cx="310.00" cy="32.45" r="2.05" fill="#00ffff"/>
<polyline points="66.50,275.94 72.59,209.04 78.67,97.29 90.85,32.45 103.03,32.45 115.20,32.45 127.38,32.45 139.55,32.45 151.73,32.45 163.90,32.45 176.07,32.45 188.25,32.45 200.43,32.45 212.60,32.45 224.78,32.45 236.95,32.45 249.12,32.45 261.30,32.45 273.48,32.45 285.65,32.45 297.83,32.45 310.00,32.45" fill="none" stroke="#ff00ff" stroke-width="1" stroke-opacity="0.6"/>
<circle cx="66.50" cy="275.94" r="2.05" fill="#ff00ff"/>
<circle cx="72.59" cy="209.04" r="2.05" fill="#ff00ff"/>
<circle cx="78.67" cy="97.29" r="2.05" fill="#ff00ff"/>
<circle cx="90.85" cy="32.45" r="2.05" fill="#ff00ff"/>
<circle cx="103.03" cy="32.45" r="2.05" fill="#ff00ff"/>
<circle cx="115.20" cy="32.45" r="2.05" fill="#ff00ff"/>
<circle cx="127.38" cy="32.45" r="2.05" fill="#ff00ff"/>
<circle cx="139.55" cy="32.45" r="2.05" fill="#ff00ff"/>
<circle cx="151.73" cy="32.45" r="2.05" fill="#ff00ff"/>
<circle cx="163.90" cy="32.45" r="2.05" fill="#ff00ff"/>
<circle cx="176.07" cy="32.45" r="2.05" fill="#ff00ff"/>
<circle cx="188.25" cy="32.45" r="2.05" fill="#ff00ff"/>
<circle cx="200.43" cy="32.45" r="2.05" fill="#ff00ff"/>
<circle cx="212.60" cy="32.45" r="2.05" fill="#ff00ff"/>
<circle cx="224.78" cy="32.45" r="2.05" fill="#ff00ff"/>
<circle cx="236.95" cy="32.45" r="2.05" fill="#ff00ff"/>
<circle cx="249.12" cy="32.45" r="2.05" fill="#ff00ff"/>
<circle cx="261.30" cy="32.45" r="2.05" fill="#ff00ff"/>
<circle cx="273.48" cy="32.45" r="2.05" fill="#ff00ff"/>
<circle cx="285.65" cy="32.45" r="2.05" fill="#ff00ff"/>
<circle cx="297.83" cy="32.45" r="2.05" fill="#ff00ff"/>
<circle cx="310.00" cy="32.45" r="2.05" fill="#ff00ff"/>
<line x1="211.2" y1="214.56" x2="237.2" y2="214.56" stroke="#000000" stroke-width="1"/>
<circle cx="224.5" cy="214.56" r="2.45" fill="#000000"/>
<text x="250.5" y="219.56" class="leg">ROC</text>
<line x1="211.2" y1="231.65" x2="237.2" y2="231.65" stroke="#0000ff" stroke-width="1"/>
<circle cx="224.5" cy="231.65" r="2.65" fill="#0000ff"/>
<text x="250.5" y="236.65" class="leg">SLR</text>
<line x1="211.2" y1="248.74" x2="237.2" y2="248.74" stroke="#00ffff" stroke-width="1"/>
<circle cx="224.5" cy="248.74" r="2.65" fill="#00ffff"/>
<text x="250.5" y="253.74" class="leg">BEDROC</text>
<line x1="211.2" y1="265.83" x2="237.2" y2="265.83" stroke="#ff00ff" stroke-width="1"/>
<circle cx="224.5" cy="265.83" r="2.65" fill="#ff00ff"/>
<text x="250.5" y="270.83" class="leg">pROC</text>
</g>
</svg>
</body></html>
